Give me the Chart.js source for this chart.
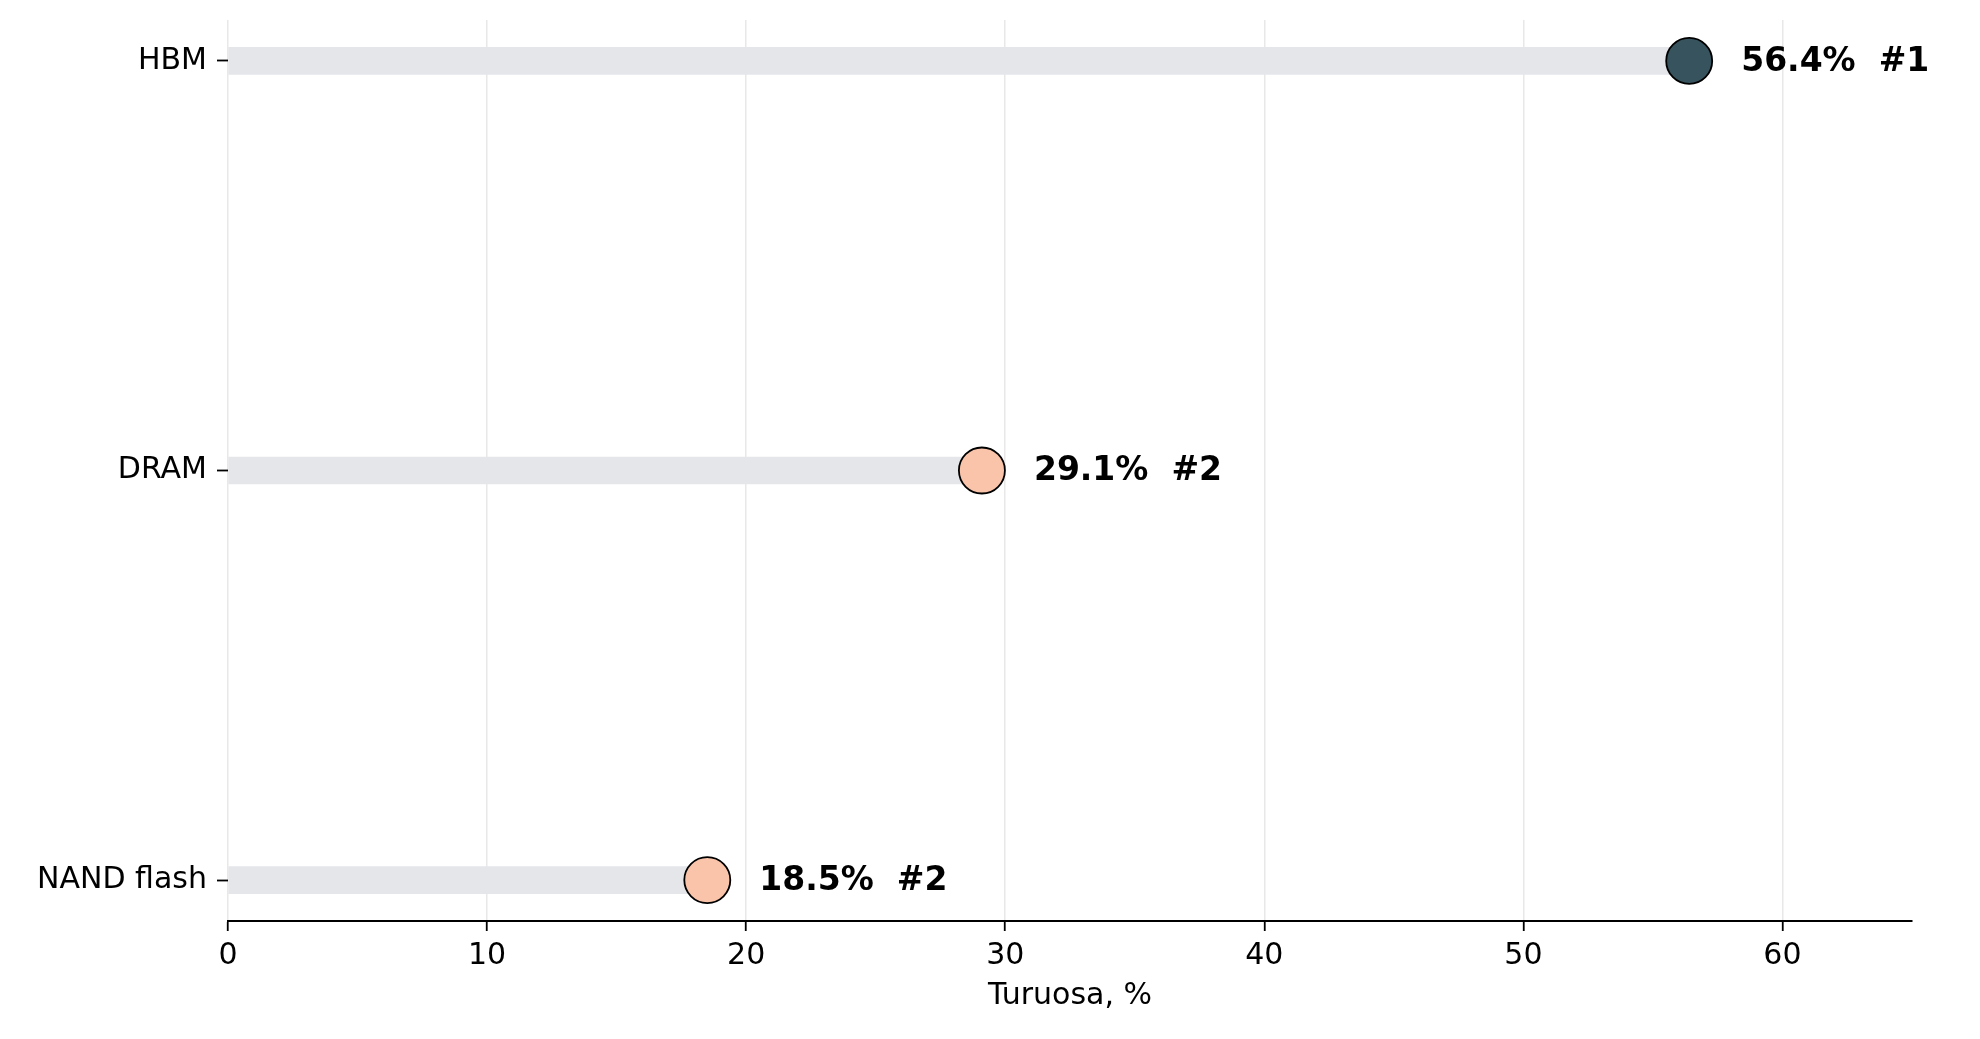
<!DOCTYPE html>
<html>
<head>
<meta charset="utf-8">
<script src="https://cdn.jsdelivr.net/npm/chart.js@4/dist/chart.umd.min.js"></script>
<style>
  html, body { margin: 0; padding: 0; background: #fff; }
  #wrap { width: 1980px; height: 1039px; }
</style>
</head>
<body>
<div id="wrap"><canvas id="chart" width="1980" height="1039"></canvas></div>
<script>
// lollipop data, top to bottom
const categories = ['HBM', 'DRAM', 'NAND flash'];
const shares = [56.4, 29.1, 18.5];
const ranks = ['#1', '#2', '#2'];
const dotColors = ['#37535e', '#f9c4a9', '#f9c4a9'];
const xTicks = [0, 10, 20, 30, 40, 50, 60];

const n = categories.length;
const rowPos = categories.map((c, i) => n - 1 - i);

const font = 'DejaVu Sans';

const valueLabels = {
    id: 'valueLabels',
    afterDatasetsDraw(chart) {
        const ctx = chart.ctx;
        const xs = chart.scales.x;
        const ys = chart.scales.y;
        ctx.save();
        ctx.font = 'bold 33px "' + font + '"';
        ctx.fillStyle = '#000';
        ctx.textAlign = 'left';
        ctx.textBaseline = 'middle';
        shares.forEach((v, i) => {
            const px = xs.getPixelForValue(v) + 52;
            const py = ys.getPixelForValue(rowPos[i]) + 1;
            ctx.fillText(v.toFixed(1) + '%  ' + ranks[i], px, py);
        });
        ctx.restore();
    }
};

new Chart(document.getElementById('chart'), {
    type: 'bar',
    data: {
        datasets: [
            {
                type: 'bar',
                indexAxis: 'y',
                data: shares.map((v, i) => ({x: v, y: rowPos[i]})),
                backgroundColor: '#e5e6ea',
                barThickness: 27,
                order: 2
            },
            {
                type: 'scatter',
                data: shares.map((v, i) => ({x: v, y: rowPos[i]})),
                pointRadius: 23,
                pointBackgroundColor: dotColors,
                pointBorderColor: '#000',
                pointBorderWidth: 1.8,
                clip: false,
                order: 1
            }
        ]
    },
    options: {
        responsive: false,
        animation: false,
        indexAxis: 'y',
        layout: { autoPadding: false, padding: { top: 20, right: 68, left: 0, bottom: 0 } },
        plugins: { legend: { display: false }, tooltip: { enabled: false } },
        scales: {
            x: {
                type: 'linear',
                position: 'bottom',
                min: 0,
                max: 65,
                offset: false,
                afterBuildTicks: s => { s.ticks = xTicks.map(v => ({value: v})); },
                afterFit: s => { s.height = 118; },
                grid: {
                    offset: false,
                    color: '#e8e8e8',
                    lineWidth: 1.5,
                    drawTicks: true,
                    tickLength: 10,
                    tickColor: '#000',
                    tickWidth: 1.8
                },
                border: { display: true, color: '#000', width: 2 },
                ticks: {
                    color: '#000',
                    padding: 7,
                    maxRotation: 0,
                    font: { family: font, size: 30 }
                },
                title: {
                    display: true,
                    text: 'Turuosa, %',
                    color: '#000',
                    padding: { top: 4, bottom: 25 },
                    font: { family: font, size: 30 }
                }
            },
            y: {
                type: 'linear',
                min: -0.1,
                max: 2.1,
                offset: false,
                afterBuildTicks: s => { s.ticks = rowPos.map(v => ({value: v})); },
                afterFit: s => { s.width = 228; s.paddingTop = 0; s.paddingBottom = 0; },
                grid: {
                    offset: false,
                    drawOnChartArea: false,
                    drawTicks: true,
                    tickLength: 11,
                    tickColor: '#000',
                    tickWidth: 1.8
                },
                border: { display: false },
                ticks: {
                    color: '#000',
                    padding: 10,
                    font: { family: font, size: 30 },
                    callback: v => categories[n - 1 - v]
                }
            }
        }
    },
    plugins: [valueLabels]
});
</script>
</body>
</html>
